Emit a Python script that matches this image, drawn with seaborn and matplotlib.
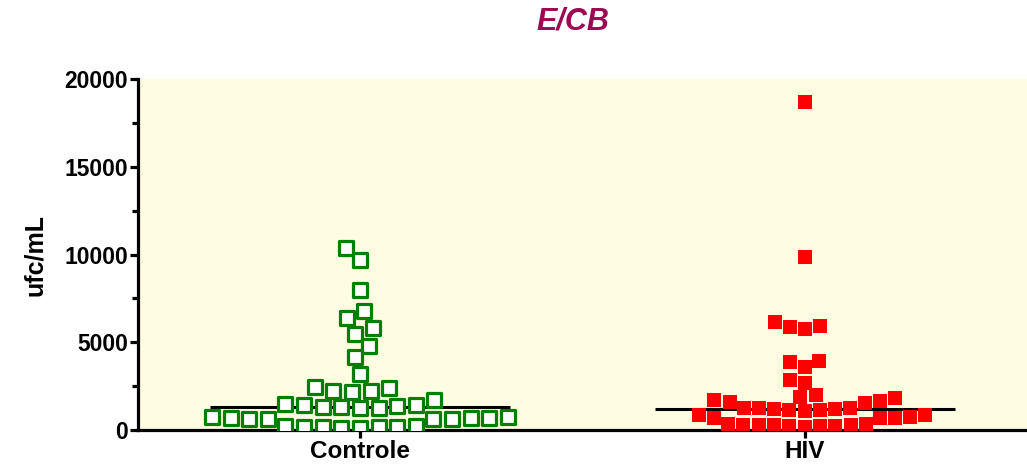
import numpy as np
import pandas as pd
import matplotlib
matplotlib.use("Agg")
import matplotlib.pyplot as plt
from matplotlib.ticker import MultipleLocator
import seaborn as sns

# ufc/mL values
groups = ["Controle", "HIV"]
controle = [10370, 9690, 7980, 6780, 6380, 5810, 5470, 4790, 4160, 3190, 2450,
            2390, 2220, 2220, 2170,
            1700, 1500, 1450, 1400, 1350, 1310, 1300, 1280, 1250,
            750, 720, 700, 680, 660, 650, 640, 620, 600,
            250, 220, 200, 180, 160, 150, 130, 120]
hiv = [18690, 9860, 6150, 5930, 5870, 5750, 3950, 3870, 3600, 2850, 2680,
       1990, 1880, 1820, 1710, 1650, 1600, 1540,
       1250, 1250, 1250, 1200, 1200, 1140, 1140, 1080,
       850, 850, 750, 680, 680, 680,
       350, 320, 300, 300, 280, 260, 250, 240, 220, 200]

df = pd.DataFrame({
    "grupo": ["Controle"] * len(controle) + ["HIV"] * len(hiv),
    "ufc": controle + hiv,
})

plt.rcParams["font.family"] = ["Liberation Sans", "DejaVu Sans"]
plt.rcParams["font.weight"] = "bold"

fig = plt.figure(figsize=(10.27, 4.71), dpi=100)
ax = fig.add_axes([0.134, 0.087, 0.866, 0.745])
ax.set_facecolor("#FFFDE1")

# median lines behind the points
for i, vals in enumerate([controle, hiv]):
    ax.hlines(np.median(vals), i - 0.337, i + 0.337, color="black", lw=2.2, zorder=1)

sns.swarmplot(data=df[df["grupo"] == "Controle"], x="grupo", y="ufc", order=groups,
              marker="s", size=10.5, color="white", edgecolor="#008000", linewidth=2.3,
              zorder=3, ax=ax)
sns.swarmplot(data=df[df["grupo"] == "HIV"], x="grupo", y="ufc", order=groups,
              marker="s", size=10.5, color="#FF0000", linewidth=0,
              zorder=3, ax=ax)

ax.set_xlim(-0.5, 1.5)
ax.set_ylim(0, 20000)
ax.yaxis.set_major_locator(MultipleLocator(5000))
ax.yaxis.set_minor_locator(MultipleLocator(2500))

for s in ["top", "right"]:
    ax.spines[s].set_visible(False)
for s in ["left", "bottom"]:
    ax.spines[s].set_linewidth(2.3)

ax.tick_params(axis="y", which="major", length=6, width=2.3, labelsize=16.5, pad=1)
ax.tick_params(axis="y", which="minor", length=4, width=2.3)
ax.tick_params(axis="x", length=6, width=2.3, labelsize=17.5, pad=1)

ax.set_xlabel("")
ax.set_ylabel("ufc/mL", fontsize=18, fontweight="bold", labelpad=12)

fig.text(0.558, 0.955, "E/CB", ha="center", va="center", fontsize=22,
         fontstyle="italic", fontweight="bold", color="#9B0A55")

fig.savefig("out.png", dpi=100)
